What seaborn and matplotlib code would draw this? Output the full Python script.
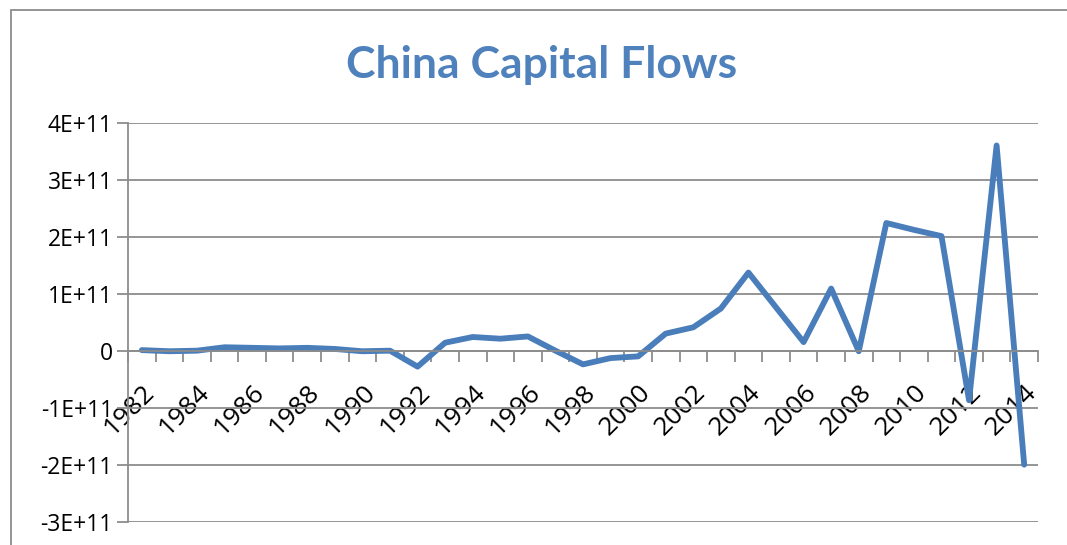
import matplotlib
matplotlib.use("Agg")
import matplotlib.pyplot as plt
import matplotlib.ticker as mticker
from matplotlib.patches import Rectangle
import pandas as pd
import seaborn as sns

# Data
years = list(range(1982, 2015))
flows = [1e9, -1e9, 0, 6e9, 5e9, 4e9, 5e9, 3e9, -1e9, 0,
         -2.8e10, 1.4e10, 2.4e10, 2.1e10, 2.5e10, 0, -2.4e10, -1.3e10, -1e10, 3.0e10,
         4.1e10, 7.4e10, 1.37e11, 7.6e10, 1.5e10, 1.09e11, -1e9, 2.24e11, 2.12e11, 2.01e11,
         -8.7e10, 3.6e11, -2.0e11]
y_ticks = [-3e11, -2e11, -1e11, 0, 1e11, 2e11, 3e11, 4e11]

df = pd.DataFrame({"year": years, "flow": flows})

sns.set_theme(style="white")
plt.rcParams["font.family"] = ["Open Sans", "DejaVu Sans"]

fig = plt.figure(figsize=(10.67, 5.45), dpi=100)
ax = fig.add_axes([0.12, 0.0428, 0.8528, 0.7321])

sns.lineplot(data=df, x="year", y="flow", ax=ax, color="#4A7EBB", linewidth=4.2)
ax.lines[0].set_solid_joinstyle("round")
ax.lines[0].set_solid_capstyle("round")

ax.set_xlim(1981.5, 2014.5)
ax.set_ylim(-3e11, 4e11)
ax.set_xlabel("")
ax.set_ylabel("")

def sci(v, pos):
    if v == 0:
        return "0"
    return f"{v/1e11:.0f}E+11"

ax.yaxis.set_major_locator(mticker.FixedLocator(y_ticks))
ax.yaxis.set_major_formatter(mticker.FuncFormatter(sci))
ax.yaxis.grid(True, color="#8C8C8C", linewidth=1.3)
ax.tick_params(axis="y", left=True, length=8, width=1.3, color="#8C8C8C",
               labelsize=16.5, labelcolor="black", pad=3)

# category axis crossing at zero
ax.spines["bottom"].set_position(("data", 0))
for s in ["top", "right"]:
    ax.spines[s].set_visible(False)
ax.spines["bottom"].set_color("#8C8C8C")
ax.spines["left"].set_color("#8C8C8C")
ax.spines["bottom"].set_linewidth(1.3)
ax.spines["left"].set_linewidth(1.3)

ax.xaxis.set_major_locator(mticker.FixedLocator(years[::2]))
ax.xaxis.set_major_formatter(mticker.FixedFormatter([str(y) for y in years[::2]]))
ax.xaxis.set_minor_locator(mticker.FixedLocator([y + 0.5 for y in range(1981, 2015)]))
ax.tick_params(axis="x", which="major", bottom=True, length=0, labelsize=19,
               labelcolor="black", pad=21)
ax.tick_params(axis="x", which="minor", bottom=True, length=8, width=1.3, color="#8C8C8C")
for lbl in ax.get_xticklabels():
    lbl.set_rotation(45)
    lbl.set_rotation_mode("anchor")
    lbl.set_ha("right")
    lbl.set_va("top")

fig.suptitle("China Capital Flows", x=0.508, y=0.918, fontsize=32,
             fontweight="bold", color="#4F81BD", family=["Lato", "DejaVu Sans"])

# chart frame
fig.patches.append(Rectangle((11 / 1067, -0.1), 1.2, 0.1 + (1 - 10 / 545),
                             transform=fig.transFigure, fill=False,
                             edgecolor="#8C8C8C", linewidth=1.3, clip_on=False))

fig.savefig("out.png", dpi=100)
